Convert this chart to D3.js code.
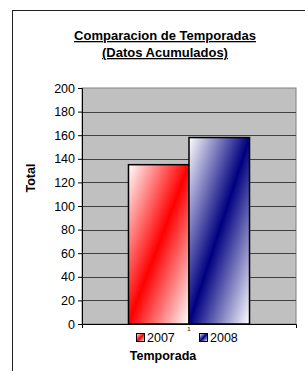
<!DOCTYPE html>
<meta charset="utf-8">
<head>
    <title>Comparacion de Temporadas</title>
    <script type="text/javascript" src="https://cdn.jsdelivr.net/npm/d3@7/dist/d3.min.js"></script>
    <style>
        body { margin: 0; background: #fff; }
        text { font-family: "Liberation Sans", Arial, sans-serif; }
    </style>
</head>
<body>
<div id="chart"></div>
<script>
    // data
    var categories = ["1"];
    var seasons = ["2007", "2008"];
    var totals = [135, 158];
    var seasonColors = ["#ff0000", "#000080"];
    var yTicks = [0, 20, 40, 60, 80, 100, 120, 140, 160, 180, 200];

    var width = 305, height = 371;
    var plot = {left: 82, right: 296, top: 88, bottom: 324};

    var svg = d3.select('#chart')
        .append('svg')
        .attr('width', width)
        .attr('height', height);

    // gradients (white -> colour -> white, diagonal like excel)
    var defs = svg.append('defs');
    seasons.forEach(function(s, i) {
        var g = defs.append('linearGradient')
            .attr('id', 'grad' + i)
            .attr('x1', 0).attr('y1', 0).attr('x2', 1).attr('y2', 1);
        g.append('stop').attr('offset', '0%').attr('stop-color', '#ffffff');
        g.append('stop').attr('offset', '50%').attr('stop-color', seasonColors[i]);
        g.append('stop').attr('offset', '100%').attr('stop-color', '#ffffff');
    });

    // outer chart border
    svg.append('rect')
        .attr('x', 12.5).attr('y', 10.5)
        .attr('width', 300).attr('height', 370)
        .attr('fill', 'white')
        .attr('stroke', '#222')
        .attr('stroke-width', 1);

    // title
    var title = svg.append('text')
        .attr('text-anchor', 'middle')
        .attr('font-size', 13)
        .attr('font-weight', 700)
        .attr('text-decoration', 'underline');
    title.append('tspan').attr('x', 165).attr('y', 40).text('Comparacion de Temporadas');
    title.append('tspan').attr('x', 165).attr('y', 57).text('(Datos Acumulados)');

    // scales
    var y = d3.scaleLinear().domain([0, 200]).range([plot.bottom, plot.top]);
    var x0 = d3.scaleBand().domain(categories).range([plot.left, plot.right]).paddingOuter(0.384);
    var x1 = d3.scaleBand().domain(seasons).range([0, x0.bandwidth()]);

    // plot area background
    svg.append('rect')
        .attr('x', plot.left).attr('y', plot.top)
        .attr('width', plot.right - plot.left)
        .attr('height', plot.bottom - plot.top)
        .attr('fill', '#c0c0c0')
        .attr('stroke', '#808080');

    // gridlines
    svg.append('g')
        .selectAll('line')
        .data(yTicks.filter(function(d){ return d > 0 && d < 200; }))
        .enter().append('line')
        .attr('x1', plot.left).attr('x2', plot.right)
        .attr('y1', function(d){ return Math.round(y(d)) + 0.5; })
        .attr('y2', function(d){ return Math.round(y(d)) + 0.5; })
        .attr('stroke', '#404040')
        .attr('stroke-width', 1.2);

    // bars
    svg.append('g')
        .selectAll('rect')
        .data(totals)
        .enter().append('rect')
        .attr('x', function(d, i){ return x0(categories[0]) + x1(seasons[i]); })
        .attr('y', function(d){ return y(d); })
        .attr('width', x1.bandwidth())
        .attr('height', function(d){ return y(0) - y(d); })
        .attr('fill', function(d, i){ return 'url(#grad' + i + ')'; })
        .attr('stroke', '#000')
        .attr('stroke-width', 1.5);

    // y axis
    var yAxis = d3.axisLeft(y).tickValues(yTicks).tickSize(4).tickPadding(3);
    var gy = svg.append('g')
        .attr('transform', 'translate(' + plot.left + ',0)')
        .call(yAxis);
    gy.select('.domain').attr('stroke', '#000');
    gy.selectAll('text')
        .attr('font-size', 12.5)
        .attr('font-family', '"Liberation Sans", Arial, sans-serif')
        .attr('fill', '#000');

    // x axis line
    var xAxis = d3.axisBottom(x0).tickSize(0).tickSizeOuter(4).tickPadding(5);
    var gx = svg.append('g')
        .attr('transform', 'translate(0,' + plot.bottom + ')')
        .call(xAxis);
    gx.select('.domain').attr('stroke', '#000');
    gx.selectAll('text')
        .attr('font-size', 6)
        .attr('font-family', '"Liberation Sans", Arial, sans-serif')
        .attr('fill', '#000')
        .attr('dy', '0.3em');

    // axis titles
    svg.append('text')
        .attr('transform', 'translate(35,178) rotate(-90)')
        .attr('text-anchor', 'middle')
        .attr('font-size', 12.5)
        .attr('font-weight', 700)
        .text('Total');

    svg.append('text')
        .attr('x', 163).attr('y', 360)
        .attr('text-anchor', 'middle')
        .attr('font-size', 12.5)
        .attr('font-weight', 700)
        .text('Temporada');

    // legend
    var legendX = [136, 199];
    var legend = svg.append('g');
    seasons.forEach(function(s, i) {
        legend.append('rect')
            .attr('x', legendX[i] + 0.5).attr('y', 333.5)
            .attr('width', 8).attr('height', 8)
            .attr('fill', 'url(#grad' + i + ')')
            .attr('stroke', '#000');
        legend.append('text')
            .attr('x', legendX[i] + 11).attr('y', 342)
            .attr('font-size', 12.5)
            .text(s);
    });
</script>
</body>
</html>
